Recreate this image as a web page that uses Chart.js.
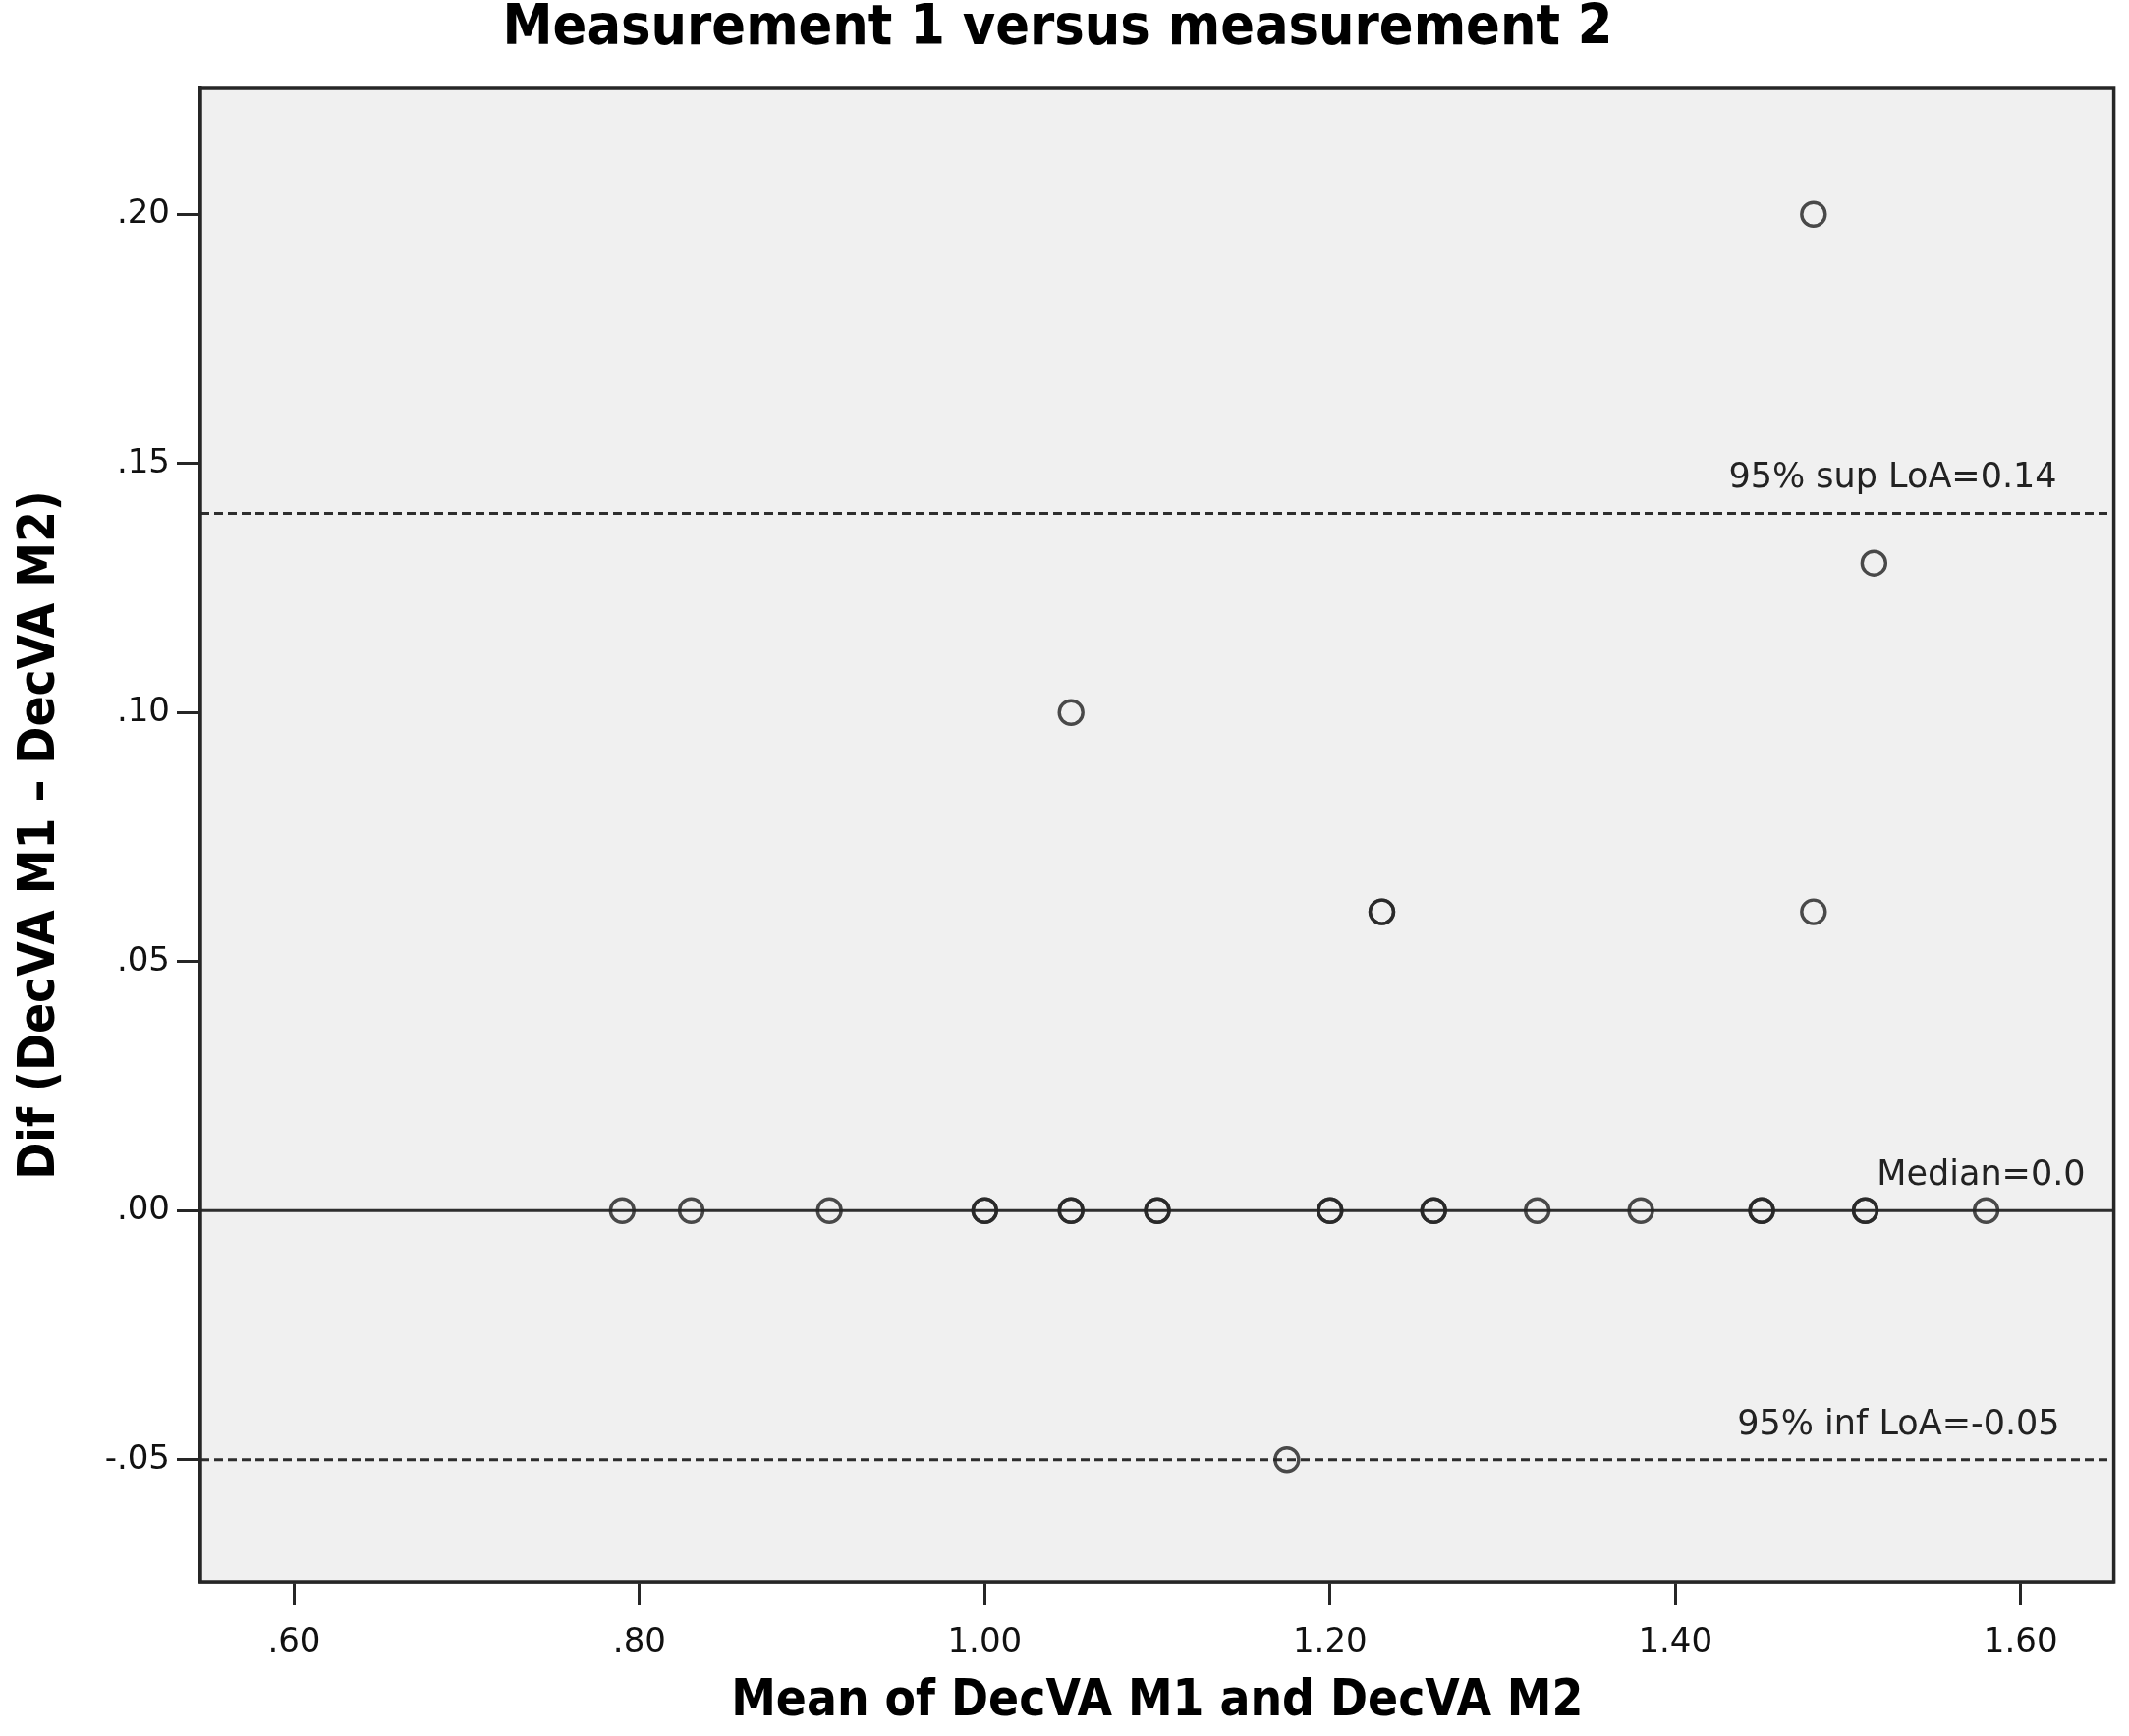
<!DOCTYPE html>
<html lang="en">
<head>
    <meta charset="UTF-8">
    <title>Measurement 1 versus measurement 2</title>
    <script src="https://cdn.jsdelivr.net/npm/chart.js@4.4.0/dist/chart.umd.js"></script>
    <style>
        html, body { margin: 0; padding: 0; background: #ffffff; }
        #wrap { width: 2167px; height: 1767px; }
    </style>
</head>
<body>
    <div id="wrap"><canvas id="blandAltman" width="2167" height="1767"></canvas></div>

    <script>
        // Bland-Altman data (mean of the two measurements vs difference)
        const meanValues = [0.79, 0.83, 0.91, 1.00, 1.00, 1.05, 1.05, 1.10, 1.10, 1.20, 1.20, 1.26, 1.26,
                            1.32, 1.38, 1.45, 1.45, 1.51, 1.51, 1.58,
                            1.05, 1.23, 1.23, 1.48, 1.48, 1.515, 1.175];
        const diffValues = [0, 0, 0, 0, 0, 0, 0, 0, 0, 0, 0, 0, 0,
                            0, 0, 0, 0, 0, 0, 0,
                            0.10, 0.06, 0.06, 0.06, 0.20, 0.13, -0.05];

        const refValues = [0.14, 0.0, -0.05];
        const refLabels = ['95% sup LoA=0.14', 'Median=0.0', '95% inf LoA=-0.05'];

        const xTicks = [0.60, 0.80, 1.00, 1.20, 1.40, 1.60];
        const yTicks = [-0.05, 0.00, 0.05, 0.10, 0.15, 0.20];
        const xRange = [0.5457, 1.654];
        const yRange = [-0.0745, 0.2253];

        function fmt(v) {
            return v.toFixed(2).replace(/^(-?)0\./, '$1.');
        }

        const points = meanValues.map((m, i) => ({ x: m, y: diffValues[i] }));

        function refLine(v, dashed) {
            return {
                type: 'line',
                data: [{ x: xRange[0], y: v }, { x: xRange[1], y: v }],
                borderColor: '#2e2e2e',
                borderWidth: 3,
                borderDash: dashed ? [9, 5] : [],
                pointRadius: 0,
                fill: false,
                order: 2
            };
        }

        // grey plot background and black frame
        const framePlugin = {
            id: 'frame',
            beforeDatasetsDraw(chart) {
                const a = chart.chartArea, c = chart.ctx;
                c.save();
                c.fillStyle = '#f0f0f0';
                c.fillRect(a.left, a.top, a.right - a.left, a.bottom - a.top);
                c.restore();
            },
            afterDraw(chart) {
                const a = chart.chartArea, c = chart.ctx;
                c.save();
                c.strokeStyle = '#262626';
                c.lineWidth = 3.5;
                c.strokeRect(a.left, a.top, a.right - a.left, a.bottom - a.top);
                c.restore();
            }
        };

        // text labels sitting just above the reference lines
        const refLabelPlugin = {
            id: 'refLabels',
            afterDatasetsDraw(chart) {
                const c = chart.ctx, y = chart.scales.y, a = chart.chartArea;
                const rightInset = [58, 29, 55];
                c.save();
                c.font = '35px "DejaVu Sans"';
                c.fillStyle = '#222';
                c.textAlign = 'right';
                c.textBaseline = 'alphabetic';
                refValues.forEach((v, i) => {
                    c.fillText(refLabels[i], a.right - rightInset[i], y.getPixelForValue(v) - 26);
                });
                c.restore();
            }
        };

        const ctx = document.getElementById('blandAltman').getContext('2d');
        new Chart(ctx, {
            type: 'scatter',
            data: {
                datasets: [
                    refLine(refValues[0], true),
                    refLine(refValues[1], false),
                    refLine(refValues[2], true),
                    {
                        label: 'Difference',
                        data: points,
                        pointRadius: 12,
                        pointBorderWidth: 3.4,
                        pointBorderColor: 'rgba(35,35,35,0.82)',
                        pointBackgroundColor: 'rgba(0,0,0,0)',
                        order: 1
                    }
                ]
            },
            plugins: [framePlugin, refLabelPlugin],
            options: {
                responsive: false,
                animation: false,
                layout: { padding: { top: 0, right: 14, bottom: 0, left: 0 } },
                plugins: {
                    legend: { display: false },
                    tooltip: { enabled: false },
                    title: {
                        display: true,
                        text: 'Measurement 1 versus measurement 2',
                        color: '#000',
                        font: { family: '"DejaVu Sans Condensed", "DejaVu Sans"', size: 57, weight: 'bold', lineHeight: 1 },
                        padding: { top: 2, bottom: 31 }
                    }
                },
                scales: {
                    x: {
                        type: 'linear',
                        min: xRange[0],
                        max: xRange[1],
                        afterBuildTicks: (s) => { s.ticks = xTicks.map(v => ({ value: v })); },
                        afterFit: (s) => { s.height = 157; },
                        border: { display: true, color: '#262626', width: 3.5 },
                        grid: { drawOnChartArea: false, drawTicks: true, tickLength: 24, tickColor: '#262626', tickWidth: 3 },
                        ticks: {
                            callback: (v) => fmt(v),
                            color: '#111',
                            font: { family: '"DejaVu Sans"', size: 34 },
                            padding: 18,
                            maxRotation: 0
                        },
                        title: {
                            display: true,
                            text: 'Mean of DecVA M1 and DecVA M2',
                            color: '#000',
                            font: { family: '"DejaVu Sans Condensed", "DejaVu Sans"', size: 51, weight: 'bold', lineHeight: 1.2 },
                            padding: { top: 0, bottom: 4 }
                        }
                    },
                    y: {
                        type: 'linear',
                        min: yRange[0],
                        max: yRange[1],
                        afterBuildTicks: (s) => { s.ticks = yTicks.map(v => ({ value: v })); },
                        afterFit: (s) => { s.width = 204; },
                        border: { display: true, color: '#262626', width: 3.5 },
                        grid: { drawOnChartArea: false, drawTicks: true, tickLength: 24, tickColor: '#262626', tickWidth: 3 },
                        ticks: {
                            callback: (v) => fmt(v),
                            color: '#111',
                            font: { family: '"DejaVu Sans"', size: 34 },
                            padding: 7
                        },
                        title: {
                            display: true,
                            text: 'Dif (DecVA M1 – DecVA M2)',
                            color: '#000',
                            font: { family: '"DejaVu Sans Condensed", "DejaVu Sans"', size: 51, weight: 'bold', lineHeight: 1.2 },
                            padding: { top: 11, bottom: 0 }
                        }
                    }
                }
            }
        });
    </script>
</body>
</html>
